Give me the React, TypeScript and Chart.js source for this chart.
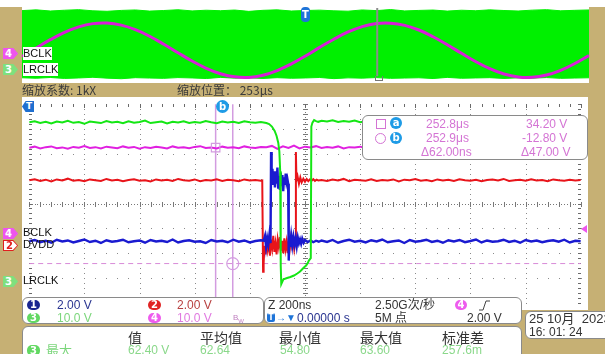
import React, { useEffect, useRef } from "react";
import { Chart, registerables } from "chart.js";
Chart.register(...registerables);

// ---------------- data (main window: time in ns, value in divisions) ----------------
const MAIN_T_LEFT = [-1000,-980,-960,-940,-920,-900,-880,-860,-840,-820,-800,-780,-760,-740,-720,-700,-680,-660,-640,-620,-600,-580,-560,-540,-520,-500,-480,-460,-440,-420,-400,-380,-360,-340,-320,-300,-280,-260,-240,-220,-200,-180,-160];
const MAIN_T_RIGHT = [60,80,100,120,140,160,180,200,220,240,260,280,300,320,340,360,380,400,420,440,460,480,500,520,540,560,580,600,620,640,660,680,700,720,740,760,780,800,820,840,860,880,900,920,940,960,980,1000];

// CH3 LRCLK (green)
const CH3_LEFT = [3.27,3.31,3.24,3.29,3.22,3.30,3.26,3.33,3.25,3.28,3.21,3.30,3.27,3.24,3.32,3.26,3.29,3.23,3.31,3.25,3.28,3.34,3.24,3.27,3.30,3.22,3.29,3.26,3.31,3.24,3.28,3.25,3.32,3.27,3.23,3.30,3.26,3.29,3.24,3.31,3.27,3.25,3.28];
const CH3_BURST_T = [-150,-140,-130,-120,-110,-103,-97,-93,-90,-88,-86,-78,-65,-53,-40,-28,-18,-11,-4,4,10,14,18,21,23,27,33,40,48];
const CH3_BURST = [3.26,3.24,3.20,3.10,2.92,2.72,2.45,2.10,1.30,-2.50,-3.25,-3.05,-3.00,-2.96,-2.90,-2.82,-2.74,-2.66,-2.58,-2.50,-2.40,-2.30,-2.24,-2.20,3.10,3.26,3.36,3.32,3.29];
const CH3_RIGHT = [3.33,3.30,3.35,3.28,3.32,3.29,3.34,3.27,3.31,3.30,3.26,3.33,3.29,3.32,3.27,3.30,3.34,3.28,3.31,3.26,3.30,3.33,3.29,3.27,3.32,3.30,3.28,3.34,3.29,3.31,3.27,3.32,3.30,3.26,3.33,3.29,3.31,3.28,3.30,3.34,3.27,3.31,3.29,3.32,3.28,3.30,3.33,3.29];

// CH4 BCLK (magenta)
const CH4_LEFT = [2.25,2.29,2.22,2.27,2.30,2.23,2.26,2.21,2.28,2.25,2.31,2.24,2.27,2.22,2.29,2.26,2.23,2.30,2.25,2.28,2.21,2.27,2.24,2.29,2.26,2.22,2.30,2.25,2.27,2.23,2.28,2.31,2.24,2.26,2.22,2.29,2.25,2.27,2.23,2.30,2.26,2.24,2.28];
const CH4_MID_T = [-140,-120,-100,-80,-60,-40,-20,0,20,40];
const CH4_MID = [2.27,2.32,2.20,2.30,2.24,2.33,2.22,2.29,2.26,2.31];
const CH4_RIGHT = [2.24,2.28,2.25,2.30,2.22,2.27,2.26,2.29,2.23,2.31,2.25,2.27,2.22,2.28,2.26,2.30,2.24,2.27,2.21,2.29,2.25,2.28,2.23,2.26,2.30,2.24,2.27,2.25,2.29,2.22,2.28,2.26,2.31,2.24,2.27,2.25,2.29,2.23,2.28,2.26,2.30,2.24,2.27,2.25,2.22,2.29,2.26,2.28];

// CH2 DVDD (red)
const CH2_LEFT = [0.94,0.98,0.91,0.96,0.89,0.97,0.93,1.00,0.92,0.95,0.90,0.97,0.94,0.91,0.99,0.93,0.96,0.90,0.95,0.98,0.92,0.94,0.89,0.97,0.93,0.96,0.91,0.99,0.94,0.92,0.97,0.90,0.95,0.93,0.98,0.91,0.96,0.94,0.90,0.97,0.93,0.95,0.92];
const CH2_BURST_T = [-155,-152,-150,-147,-143,-139,-135,-131,-127,-123,-119,-115,-111,-107,-103,-99,-95,-91,-87,-83,-79,-75,-71,-67,-63,-59,-55,-51,-47,-43,-39,-35,-33,-31,-27,-22,-17,-12,-6,0,6,12,18,24,30,36,42,48];
const CH2_BURST = [0.93,-2.75,-2.40,-1.70,-2.05,-1.40,-1.85,-1.55,-2.10,-1.45,-1.80,-1.30,-1.95,-1.60,-2.05,-1.45,-1.75,-1.35,-1.90,-1.50,-2.00,-1.40,-1.85,-1.55,-2.00,-1.45,-1.80,-1.40,-1.70,-1.50,-1.85,-1.55,2.07,0.94,1.10,0.80,1.05,0.85,1.00,0.88,0.99,0.90,0.97,0.92,0.98,0.91,0.96,0.93];
const CH2_RIGHT = [0.95,0.91,0.97,0.93,0.99,0.90,0.96,0.94,0.92,0.98,0.91,0.95,0.93,0.97,0.89,0.96,0.94,0.99,0.92,0.95,0.90,0.97,0.93,0.96,0.91,0.98,0.94,0.92,0.96,0.90,0.95,0.97,0.93,0.99,0.91,0.94,0.96,0.92,0.98,0.93,0.95,0.90,0.97,0.94,0.92,0.96,0.93,0.95];

// CH1 (blue)
const CH1_LEFT = [-1.52,-1.47,-1.56,-1.50,-1.58,-1.46,-1.53,-1.49,-1.57,-1.51,-1.45,-1.55,-1.50,-1.59,-1.48,-1.54,-1.51,-1.46,-1.56,-1.52,-1.49,-1.58,-1.47,-1.53,-1.50,-1.55,-1.45,-1.57,-1.51,-1.48,-1.54,-1.52,-1.59,-1.47,-1.53,-1.50,-1.56,-1.46,-1.54,-1.49,-1.57,-1.51,-1.48];
const CH1_BURST_T = [-150,-145,-141,-137,-133,-129,-125,-123,-121,-118,-115,-112,-109,-106,-103,-100,-97,-94,-91,-88,-85,-82,-79,-76,-73,-70,-67,-64,-61,-59,-57,-54,-50,-46,-42,-38,-34,-30,-26,-22,-18,-14,-10,-5,0,10,20,30,40,50];
const CH1_BURST = [-1.50,-1.30,-1.75,-1.40,-1.65,-1.25,-1.60,2.07,0.90,1.40,0.75,1.30,0.65,1.20,0.80,1.45,0.60,1.10,0.55,1.25,0.70,1.15,0.50,1.05,0.75,1.20,0.85,1.00,0.80,-2.30,-1.40,-1.75,-1.30,-1.70,-1.35,-1.65,-1.40,-1.72,-1.38,-1.60,-1.45,-1.62,-1.42,-1.58,-1.47,-1.55,-1.49,-1.56,-1.50,-1.54];
const CH1_RIGHT = [-1.49,-1.55,-1.47,-1.58,-1.51,-1.46,-1.54,-1.50,-1.57,-1.48,-1.53,-1.45,-1.56,-1.52,-1.49,-1.59,-1.47,-1.54,-1.51,-1.46,-1.55,-1.50,-1.58,-1.48,-1.53,-1.47,-1.56,-1.51,-1.45,-1.57,-1.49,-1.54,-1.52,-1.46,-1.55,-1.50,-1.58,-1.47,-1.53,-1.49,-1.56,-1.51,-1.48,-1.54,-1.46,-1.57,-1.50,-1.52];

const CURSOR_A = { t: -324, v: 2.25 };
const CURSOR_B = { t: -262, v: -2.42 };
const TRIGGER_LEVEL = -2.42;
const MAIN_X_DIVS = [-1000,-800,-600,-400,-200,0,200,400,600,800,1000];
const MAIN_Y_DIVS = [-4,-3,-2,-1,0,1,2,3,4];

// ---------------- data (overview window: time in µs) ----------------
const TOP_T = [-1000,-950,-900,-850,-800,-750,-700,-650,-600,-550,-500,-450,-400,-350,-300,-250,-200,-150,-100,-50,0,50,100,150,200,250,300,350,400,450,500,550,600,650,700,750,800,850,900,950,1000];
const TOP_CH4 = [-1.21,-0.31,0.56,1.33,1.91,2.25,2.31,2.09,1.61,0.92,0.08,-0.81,-1.69,-2.45,-3.02,-3.35,-3.41,-3.18,-2.69,-1.99,-1.16,-0.25,0.61,1.37,1.94,2.26,2.30,2.07,1.58,0.87,0.03,-0.87,-1.74,-2.49,-3.05,-3.36,-3.40,-3.16,-2.66,-1.95,-1.10];
const TOP_CH3_HI = [3.62,3.70,3.58,3.66,3.72,3.60,3.55,3.64,3.69,3.57,3.63,3.71,3.59,3.66,3.61,3.68,3.54,3.65,3.70,3.58,3.63,3.67,3.60,3.56,3.69,3.62,3.73,3.59,3.64,3.68,3.57,3.66,3.61,3.70,3.63,3.58,3.67,3.72,3.60,3.65,3.69];
const TOP_CH3_LO = [-3.45,-3.50,-3.42,-3.52,-3.47,-3.40,-3.49,-3.55,-3.44,-3.48,-3.51,-3.43,-3.47,-3.53,-3.41,-3.49,-3.46,-3.52,-3.44,-3.50,-3.47,-3.42,-3.54,-3.46,-3.49,-3.43,-3.51,-3.48,-3.45,-3.53,-3.41,-3.50,-3.47,-3.44,-3.52,-3.46,-3.49,-3.43,-3.51,-3.48,-3.45];
const ZOOM_POS_US = 253;

// ---------------- helpers ----------------
const pts = (ts: number[], vs: number[]) => {
  const n = Math.min(ts.length, vs.length);
  const out: { x: number; y: number }[] = [];
  for (let i = 0; i < n; i++) out.push({ x: ts[i], y: vs[i] });
  return out;
};

const C_GREEN = "#14e614";
const C_MAG = "#e020e0";
const C_RED = "#e8141a";
const C_BLUE = "#1a1ad0";
const C_CURSOR = "#d39ce0";
const TAN = "#c6b074";

const UI = '"Liberation Sans Narrow","Liberation Sans","Noto Sans CJK SC",sans-serif';
const CJK = '"Noto Sans CJK SC","Liberation Sans",sans-serif';

const scopeGrid = {
  id: "scopeGrid",
  beforeDatasetsDraw(chart: any) {
    const { ctx, scales } = chart;
    const xs = scales.x, ys = scales.y;
    const X = (t: number) => Math.round(xs.getPixelForValue(t));
    const Y = (v: number) => Math.round(ys.getPixelForValue(v));
    ctx.save();
    ctx.fillStyle = "#8a8a8a";
    for (const t of MAIN_X_DIVS) {
      if (t === 0 || t === -1000 || t === 1000) continue;
      for (let k = 0; k <= 40; k++) ctx.fillRect(X(t), Y(-4 + k * 0.2), 1, 1);
    }
    for (const v of MAIN_Y_DIVS) {
      if (v === 0 || v === 4 || v === -4) continue;
      for (let k = 0; k <= 50; k++) ctx.fillRect(X(-1000 + k * 40), Y(v), 1, 1);
    }
    ctx.fillStyle = "#777";
    for (let k = 0; k <= 80; k++) ctx.fillRect(X(0), Y(-4 + k * 0.1), 1, 1);
    for (let k = 0; k <= 40; k++) ctx.fillRect(X(0) - 2, Y(-4 + k * 0.2), 5, 1);
    for (let k = 0; k <= 200; k++) ctx.fillRect(X(-1000 + k * 10), Y(0), 1, 1);
    for (let k = 0; k <= 50; k++) ctx.fillRect(X(-1000 + k * 40), Y(0) - 2, 1, 5);
    ctx.fillStyle = "#6a6a6a";
    for (let k = 0; k <= 40; k++) {
      const y = Y(-4 + k * 0.2);
      ctx.fillRect(X(-1000), y, 3, 1);
      ctx.fillRect(X(1000) - 3, y, 3, 1);
    }
    for (let k = 0; k <= 50; k++) {
      const x = X(-1000 + k * 40);
      ctx.fillRect(x, Y(4), 1, k % 5 === 0 ? 4 : 3);
    }
    ctx.restore();
  },
};

function MainScope() {
  const ref = useRef<HTMLCanvasElement>(null);
  useEffect(() => {
    const line = (data: any, color: string, order: number, extra: any = {}) => ({
      data, borderColor: color, backgroundColor: color, borderWidth: 2,
      pointRadius: 0, tension: 0, fill: false, order, ...extra,
    });
    const chart = new Chart(ref.current as HTMLCanvasElement, {
      type: "line",
      data: {
        datasets: [
          line([{ x: -1000, y: TRIGGER_LEVEL }, { x: 1000, y: TRIGGER_LEVEL }], "#d88ad8", 20, { borderWidth: 1, borderDash: [5, 4] }),
          line([{ x: CURSOR_A.t, y: -4.5 }, { x: CURSOR_A.t, y: 4.5 }], C_CURSOR, 19, { borderWidth: 1.5 }),
          line([{ x: CURSOR_B.t, y: -4.5 }, { x: CURSOR_B.t, y: 4.5 }], C_CURSOR, 18, { borderWidth: 1.5 }),
          line([...pts(MAIN_T_LEFT, CH2_LEFT), ...pts(CH2_BURST_T, CH2_BURST), ...pts(MAIN_T_RIGHT, CH2_RIGHT)], C_RED, 5),
          line([...pts(MAIN_T_LEFT, CH1_LEFT), ...pts(CH1_BURST_T, CH1_BURST), ...pts(MAIN_T_RIGHT, CH1_RIGHT)], C_BLUE, 4, { borderWidth: 2.4 }),
          line([...pts(MAIN_T_LEFT, CH4_LEFT), ...pts(CH4_MID_T, CH4_MID), ...pts(MAIN_T_RIGHT, CH4_RIGHT)], C_MAG, 3),
          line([...pts(MAIN_T_LEFT, CH3_LEFT), ...pts(CH3_BURST_T, CH3_BURST), ...pts(MAIN_T_RIGHT, CH3_RIGHT)], C_GREEN, 2),
          {
            data: [{ x: CURSOR_A.t, y: CURSOR_A.v }], showLine: false, pointStyle: "rect",
            pointRadius: 6, borderColor: C_CURSOR, backgroundColor: "rgba(0,0,0,0)", pointBorderWidth: 1.2, order: 1,
          },
          {
            data: [{ x: CURSOR_B.t, y: CURSOR_B.v }], showLine: false, pointStyle: "circle",
            pointRadius: 6, borderColor: C_CURSOR, backgroundColor: "rgba(0,0,0,0)", pointBorderWidth: 1.2, order: 1,
          },
        ] as any,
      },
      options: {
        animation: false,
        responsive: false,
        events: [],
        layout: { padding: 0 },
        plugins: { legend: { display: false }, tooltip: { enabled: false } },
        scales: {
          x: { type: "linear", min: -1000, max: 1000, display: false },
          y: { type: "linear", min: -4, max: 4, display: false },
        },
      } as any,
      plugins: [scopeGrid],
    });
    return () => chart.destroy();
  }, []);
  return <canvas ref={ref} width={566} height={213} style={{ position: "absolute", left: 22, top: 97, background: "#fff" }} />;
}

function TopScope() {
  const ref = useRef<HTMLCanvasElement>(null);
  useEffect(() => {
    const chart = new Chart(ref.current as HTMLCanvasElement, {
      type: "line",
      data: {
        datasets: [
          { data: pts(TOP_T, TOP_CH3_HI), borderColor: "#00f000", backgroundColor: "#00f000", borderWidth: 1, pointRadius: 0, fill: "+1", order: 5 },
          { data: pts(TOP_T, TOP_CH3_LO), borderColor: "#00f000", backgroundColor: "#00f000", borderWidth: 1, pointRadius: 0, fill: false, order: 5 },
          { data: pts(TOP_T, TOP_CH4), borderColor: "#d81ed8", borderWidth: 3, pointRadius: 0, tension: 0.4, fill: false, order: 2 },
          { data: [{ x: ZOOM_POS_US, y: 3.9 }, { x: ZOOM_POS_US, y: -3.3 }], borderColor: "#8c8c8c", borderWidth: 2, pointRadius: 0, fill: false, order: 1 },
        ] as any,
      },
      options: {
        animation: false,
        responsive: false,
        events: [],
        layout: { padding: 0 },
        plugins: { legend: { display: false }, tooltip: { enabled: false } },
        scales: {
          x: { type: "linear", min: -1000, max: 1000, display: false },
          y: { type: "linear", min: -4, max: 4, display: false },
        },
      } as any,
    });
    return () => chart.destroy();
  }, []);
  return <canvas ref={ref} width={567} height={76} style={{ position: "absolute", left: 22, top: 7, background: "#fff" }} />;
}

// ---------------- UI pieces ----------------
function Txt({ x, y, size = 12, color = "#333", font = UI, bg, children }: any) {
  return (
    <div style={{ position: "absolute", left: x, top: y - Math.round(size / 2) - 1, fontSize: size, lineHeight: `${size + 2}px`,
      color, fontFamily: font, whiteSpace: "nowrap", background: bg }}>{children}</div>
  );
}

function Badge({ x, y, n, bg, w = 12, h = 10, color = "#fff", round = 5 }: any) {
  return (
    <div style={{ position: "absolute", left: x, top: y, width: w, height: h, background: bg, color, borderRadius: round,
      fontSize: 10, fontWeight: "bold", lineHeight: `${h}px`, textAlign: "center", fontFamily: '"DejaVu Sans",sans-serif' }}>{n}</div>
  );
}

function Flag({ x, y, n, bg, color = "#fff", border }: any) {
  const clip = "polygon(0 0, 68% 0, 100% 50%, 68% 100%, 0 100%)";
  return (
    <div style={{ position: "absolute", left: x, top: y, width: 15, height: 11, background: border || bg, clipPath: clip }}>
      <div style={{ position: "absolute", left: border ? 1 : 0, top: border ? 1 : 0, width: border ? 13 : 15, height: border ? 9 : 11,
        background: bg, clipPath: clip, color, fontSize: 10, fontWeight: "bold", lineHeight: border ? "9px" : "11px",
        fontFamily: '"DejaVu Sans",sans-serif', textIndent: 2 }}>{n}</div>
    </div>
  );
}

function Panel({ x, y, w, h }: any) {
  return <div style={{ position: "absolute", left: x, top: y, width: w, height: h, background: "#fff", border: "1px solid #8a8a8a", borderRadius: 6, boxSizing: "border-box" }} />;
}

const PINK_TXT = "#d474d4";

export default function App() {
  return (
    <div style={{ position: "fixed", left: 0, top: 0, width: 605, height: 354, overflow: "hidden", background: TAN, fontFamily: UI }}>
      <div style={{ position: "absolute", left: 0, top: 0, width: 605, height: 7, background: "#fff" }} />
      <TopScope />
      <div style={{ position: "absolute", left: 301, top: 7, width: 9, height: 15, background: "#1e74d8", borderRadius: 4, color: "#fff",
        fontSize: 10, fontWeight: "bold", lineHeight: "15px", textAlign: "center", fontFamily: '"DejaVu Sans",sans-serif' }}>T</div>
      <div style={{ position: "absolute", left: 375, top: 76, width: 6, height: 4, borderLeft: "1px solid #777", borderRight: "1px solid #777", borderBottom: "1px solid #777" }} />
      <Flag x={3} y={48} n="4" bg="#ee55ee" />
      <Txt x={23} y={54} size={11} color="#111" bg="#fff">BCLK</Txt>
      <Flag x={3} y={64} n="3" bg="#7ee07e" />
      <Txt x={23} y={70} size={11} color="#111" bg="#fff">LRCLK</Txt>

      <Txt x={22} y={90} size={12} color="#3a3a3a" font={CJK}>缩放系数: 1kX</Txt>
      <Txt x={177} y={90} size={12} color="#3a3a3a" font={CJK}>缩放位置： 253μs</Txt>

      <MainScope />
      <div style={{ position: "absolute", left: 22, top: 101, width: 12, height: 11, background: "#1e6fd0", color: "#fff",
        clipPath: "polygon(30% 0, 100% 0, 100% 100%, 30% 100%, 0 50%)", fontSize: 9, fontWeight: "bold", lineHeight: "11px",
        textAlign: "center", fontFamily: '"DejaVu Sans",sans-serif', textIndent: 2 }}>T</div>
      <Badge x={216} y={100} n="b" bg="#1e9be6" w={13} h={13} round={7} />
      <div style={{ position: "absolute", left: 581, top: 225, width: 0, height: 0, borderTop: "4px solid transparent",
        borderBottom: "4px solid transparent", borderRight: "6px solid #ee55ee" }} />

      <Flag x={3} y={228} n="4" bg="#ee55ee" />
      <Txt x={23} y={233} size={11} color="#111">BCLK</Txt>
      <Flag x={3} y={240} n="2" bg="#fff" color="#e02020" border="#e02020" />
      <Txt x={23} y={245} size={11} color="#111">DVDD</Txt>
      <Flag x={3} y={276} n="3" bg="#7ee07e" />
      <Txt x={23} y={281} size={11} color="#111">LRCLK</Txt>

      <Panel x={362} y={115} w={226} h={45} />
      <div style={{ position: "absolute", left: 376, top: 119, width: 8, height: 8, border: `1px solid ${PINK_TXT}` }} />
      <Badge x={390} y={117} n="a" bg="#1e9be6" w={12} h={12} round={6} />
      <Txt x={426} y={124} size={12} color={PINK_TXT}>252.8μs</Txt>
      <Txt x={526} y={124} size={12} color={PINK_TXT}>34.20 V</Txt>
      <div style={{ position: "absolute", left: 375, top: 133, width: 9, height: 9, border: `1px solid ${PINK_TXT}`, borderRadius: 6 }} />
      <Badge x={390} y={132} n="b" bg="#1e9be6" w={12} h={12} round={6} />
      <Txt x={426} y={138} size={12} color={PINK_TXT}>252.9μs</Txt>
      <Txt x={522} y={138} size={12} color={PINK_TXT}>-12.80 V</Txt>
      <Txt x={421} y={152} size={12} color={PINK_TXT}>Δ62.00ns</Txt>
      <Txt x={521} y={152} size={12} color={PINK_TXT}>Δ47.00 V</Txt>

      <Panel x={22} y={297} w={242} h={27} />
      <Badge x={27} y={300} n="1" bg="#1a2690" w={13} h={10} />
      <Txt x={57} y={305} size={12} color="#2a3590">2.00 V</Txt>
      <Badge x={148} y={300} n="2" bg="#e02424" w={13} h={10} />
      <Txt x={177} y={305} size={12} color="#b84040">2.00 V</Txt>
      <Badge x={27} y={313} n="3" bg="#62d862" w={13} h={10} />
      <Txt x={57} y={318} size={12} color="#7cd67c">10.0 V</Txt>
      <Badge x={148} y={313} n="4" bg="#ee5cee" w={13} h={10} />
      <Txt x={177} y={318} size={12} color="#e07ae0">10.0 V</Txt>
      <Txt x={233} y={318} size={8} color="#c080c0">B<sub style={{ fontSize: 6 }}>W</sub></Txt>

      <Panel x={264} y={297} w={258} h={27} />
      <Txt x={268} y={305} size={12} color="#333">Z 200ns</Txt>
      <div style={{ position: "absolute", left: 267, top: 313, width: 8, height: 9, background: "#1e74d8", borderRadius: 2, color: "#fff",
        fontSize: 8, fontWeight: "bold", lineHeight: "9px", textAlign: "center", fontFamily: '"DejaVu Sans",sans-serif' }}>T</div>
      <Txt x={276} y={318} size={10} color="#1e74d8">→▼</Txt>
      <Txt x={297} y={318} size={12} color="#2a3590">0.00000 s</Txt>
      <Txt x={375} y={305} size={12} color="#333" font={UI}>2.50G次/秒</Txt>
      <Txt x={375} y={318} size={12} color="#333" font={UI}>5M 点</Txt>
      <Badge x={455} y={300} n="4" bg="#ee5cee" w={12} h={10} />
      <svg style={{ position: "absolute", left: 478, top: 299 }} width="12" height="12">
        <path d="M1 11 L5 11 L8 2 L12 2" stroke="#444" strokeWidth="1" fill="none" />
      </svg>
      <Txt x={467} y={318} size={12} color="#333">2.00 V</Txt>

      <Panel x={525} y={311} w={90} h={28} />
      <Txt x={529} y={319} size={13} color="#333">25 10月&nbsp;&nbsp;2023</Txt>
      <Txt x={529} y={332} size={12} color="#333">16: 01: 24</Txt>

      <Panel x={22} y={326} w={500} h={40} />
      <Txt x={128} y={337} size={14} color="#333" font={CJK}>值</Txt>
      <Txt x={200} y={337} size={14} color="#333" font={CJK}>平均值</Txt>
      <Txt x={279} y={337} size={14} color="#333" font={CJK}>最小值</Txt>
      <Txt x={360} y={337} size={14} color="#333" font={CJK}>最大值</Txt>
      <Txt x={442} y={337} size={14} color="#333" font={CJK}>标准差</Txt>
      <Badge x={27} y={345} n="3" bg="#62d862" w={13} h={11} />
      <Txt x={46} y={350} size={13} color="#7cd67c" font={CJK}>最大</Txt>
      <Txt x={128} y={350} size={12} color="#8ad88a">62.40 V</Txt>
      <Txt x={200} y={350} size={12} color="#8ad88a">62.64</Txt>
      <Txt x={280} y={350} size={12} color="#8ad88a">54.80</Txt>
      <Txt x={360} y={350} size={12} color="#8ad88a">63.60</Txt>
      <Txt x={442} y={350} size={12} color="#8ad88a">257.6m</Txt>
    </div>
  );
}
